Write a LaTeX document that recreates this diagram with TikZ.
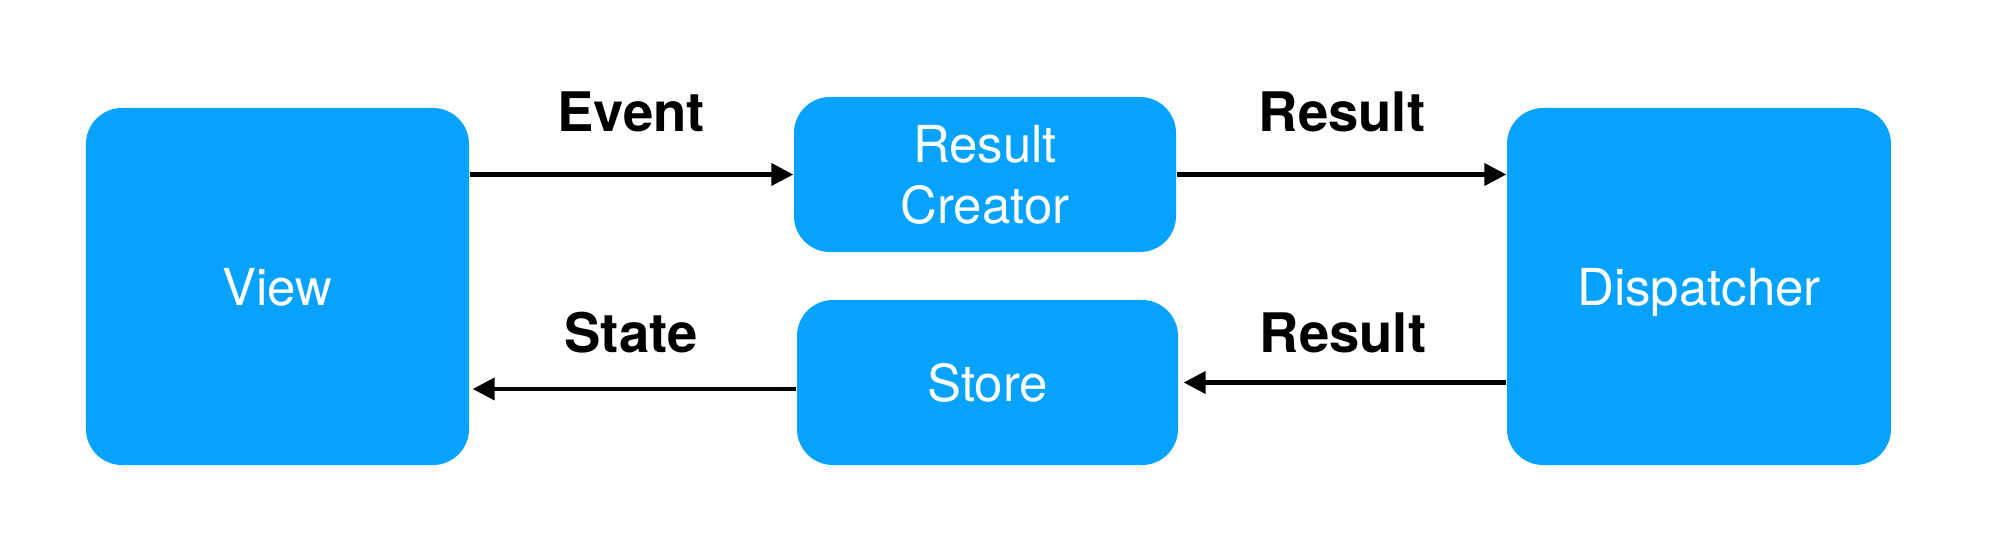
\documentclass[tikz,border=0pt]{standalone}
\usepackage{fontspec}
\setmainfont{TeX Gyre Heros}
\usepackage{xcolor}
\definecolor{flowblue}{RGB}{5,162,255}
\usetikzlibrary{arrows.meta,positioning,calc}

\begin{document}
\begin{tikzpicture}[
    box/.style={fill=flowblue,rounded corners=0.36cm,text=white,align=center,
      text depth=0pt,font=\fontsize{14.5}{17.4}\selectfont},
    lbl/.style={font=\fontsize{15.5}{18}\selectfont\bfseries},
    flow/.style={line width=1.15pt,-{Triangle[length=2.2mm,width=2.2mm]}}]
  \useasboundingbox (0,0) rectangle (19.94,5.48);
  % boxes
  \node[box,minimum width=3.83cm,minimum height=3.57cm] (view) at (2.775,2.615) {View};
  \node[box,minimum width=3.82cm,minimum height=1.55cm] (creator) at (9.85,3.735) {Result\\Creator};
  \node[box,minimum width=3.81cm,minimum height=1.65cm] (store) at (9.875,1.655) {Store};
  \node[box,minimum width=3.84cm,minimum height=3.57cm] (dispatcher) at (16.99,2.615) {Dispatcher};
  % arrow labels
  \node[lbl] (event) at (6.31,4.36) {Event};
  \node[lbl] (result1) at (13.42,4.36) {Result};
  \node[lbl] (state) at (6.31,2.15) {State};
  \node[lbl] (result2) at (13.43,2.15) {Result};
  % arrows
  \draw[flow] (creator.west -| view.east) -- (creator.west);
  \draw[flow] (creator.east) -- (creator.east -| dispatcher.west);
  \draw[flow] (store.east -| dispatcher.west) -- ([xshift=0.05cm]store.east);
  \draw[flow] ([yshift=-0.065cm]store.west) -- ([xshift=0.03cm,yshift=-0.065cm]store.west -| view.east);
\end{tikzpicture}
\end{document}
